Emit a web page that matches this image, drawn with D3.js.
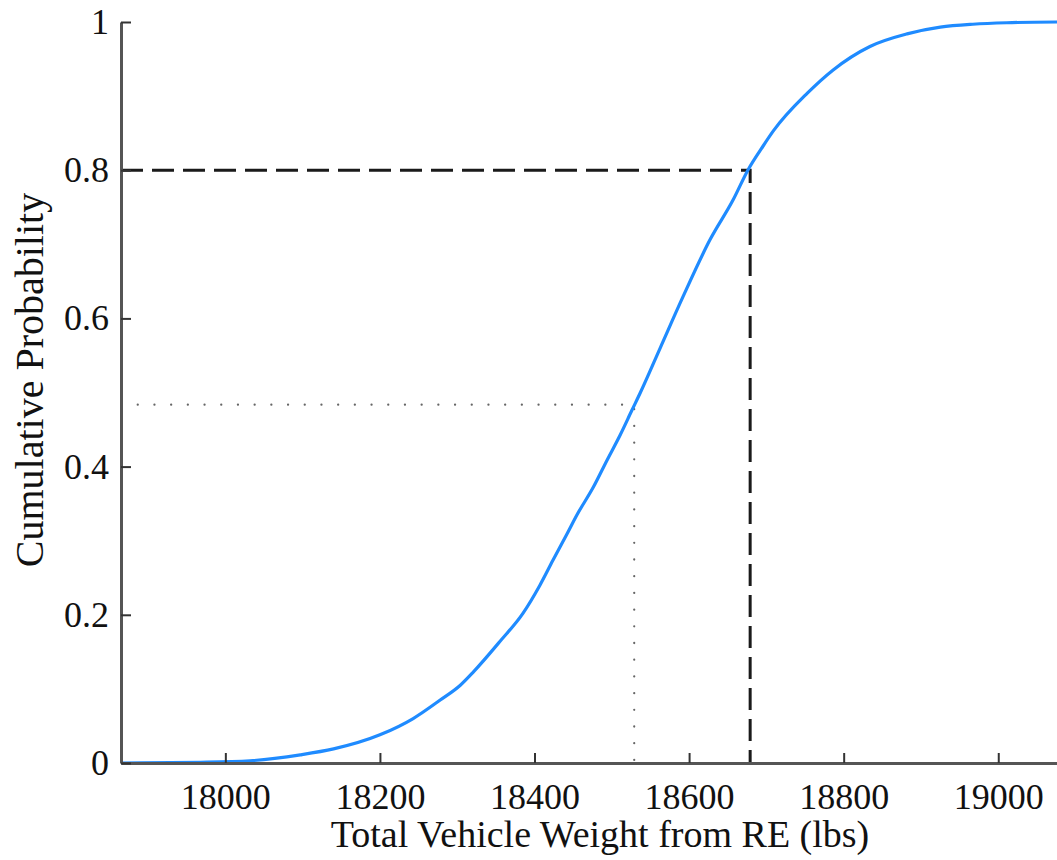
<!DOCTYPE html>
<html>
<head>
<meta charset="utf-8">
<script src="https://cdn.jsdelivr.net/npm/d3@7"></script>
<style>
  body { margin: 0; background: #fff; }
  text { font-family: "Liberation Serif", "Times New Roman", serif; fill: #111; }
</style>
</head>
<body>
<script>
// weight (lbs) vs cumulative probability
var weights = [17865, 17968, 18032, 18097, 18140, 18200, 18243, 18278, 18304, 18321,
               18356, 18385, 18407, 18424, 18442, 18455, 18476, 18494, 18511, 18526,
               18537, 18563, 18592, 18627, 18657, 18676, 18696, 18709, 18753, 18786,
               18834, 18882, 18925, 18967, 19011, 19076];
var probs = [0, 0.001, 0.003, 0.011, 0.019, 0.038, 0.060, 0.085, 0.105, 0.123,
             0.165, 0.202, 0.240, 0.274, 0.309, 0.335, 0.372, 0.409, 0.443, 0.476,
             0.500, 0.561, 0.629, 0.706, 0.760, 0.800, 0.833, 0.853, 0.904, 0.935,
             0.967, 0.984, 0.993, 0.997, 0.999, 1];

var xTicks = [18000, 18200, 18400, 18600, 18800, 19000];
var yTicks = [0, 0.2, 0.4, 0.6, 0.8, 1];
var yTickLabels = ["0", "0.2", "0.4", "0.6", "0.8", "1"];

// reference lines: 80th percentile (dashed) and median-ish (dotted)
var p80 = { x: 18679, y: 0.8 };
var pMid = { x: 18529, y: 0.4836 };

var xLabel = "Total Vehicle Weight from RE (lbs)";
var yLabel = "Cumulative Probability";

var width = 1057,
    height = 860;
var margin = { left: 121, top: 22, bottom: 97 };

var x = d3.scaleLinear().domain([17865, 19076]).range([margin.left, width]);
var y = d3.scaleLinear().domain([0, 1]).range([height - margin.bottom, margin.top]);

var svg = d3.select("body").append("svg")
  .attr("width", width)
  .attr("height", height);

var data = weights.map((w, i) => ({ x: w, y: probs[i] }));

// guide lines
svg.append("path")
  .attr("d", d3.line()([[x.range()[0], y(p80.y)], [x(p80.x), y(p80.y)], [x(p80.x), y(0)]]))
  .attr("fill", "none")
  .attr("stroke", "#1a1a1a")
  .attr("stroke-width", 3)
  .attr("stroke-dasharray", "22,9");

svg.append("path")
  .attr("d", d3.line()([[x.range()[0], y(pMid.y)], [x(pMid.x), y(pMid.y)], [x(pMid.x), y(0)]]))
  .attr("fill", "none")
  .attr("stroke", "#666")
  .attr("stroke-width", 2.2)
  .attr("stroke-linecap", "round")
  .attr("stroke-dasharray", "0.1,16.6");

// cdf curve
svg.append("path")
  .datum(data)
  .attr("fill", "none")
  .attr("stroke", "#1f8bff")
  .attr("stroke-width", 3.2)
  .attr("d", d3.line().x(d => x(d.x)).y(d => y(d.y)).curve(d3.curveMonotoneX));

// axes
var xAxis = svg.append("g")
  .attr("transform", "translate(0," + y(0) + ")")
  .call(d3.axisBottom(x).tickValues(xTicks).tickSize(-10).tickSizeOuter(0).tickPadding(20).tickFormat(d3.format("d")));

var yAxis = svg.append("g")
  .attr("transform", "translate(" + margin.left + ",0)")
  .call(d3.axisLeft(y).tickValues(yTicks).tickSize(-10).tickSizeOuter(0).tickPadding(12)
    .tickFormat((d, i) => yTickLabels[i]));

[xAxis, yAxis].forEach(g => {
  g.select(".domain").attr("stroke", "#555").attr("stroke-width", 3);
  g.selectAll(".tick line").attr("stroke", "#333").attr("stroke-width", 2);
  g.selectAll(".tick text").attr("font-size", 36).attr("fill", "#111")
    .style("font-family", '"Liberation Serif", "Times New Roman", serif');
});

svg.append("text")
  .attr("x", 600)
  .attr("y", 847)
  .attr("text-anchor", "middle")
  .attr("font-size", 38)
  .text(xLabel);

svg.append("text")
  .attr("transform", "translate(43,380) rotate(-90)")
  .attr("text-anchor", "middle")
  .attr("font-size", 40)
  .text(yLabel);
</script>
</body>
</html>
